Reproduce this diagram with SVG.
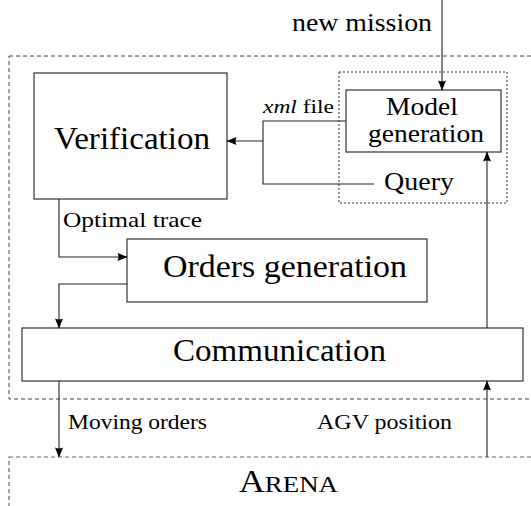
<svg xmlns="http://www.w3.org/2000/svg" width="531" height="506" viewBox="0 0 531 506">
<style>
text{font-family:"Liberation Serif","DejaVu Serif","Times New Roman",serif;fill:#000}
.box{fill:none;stroke:#333;stroke-width:1.2}
.dash{fill:none;stroke:#444;stroke-width:1;stroke-dasharray:4 3}
.dot{fill:none;stroke:#333;stroke-width:1;stroke-dasharray:2 2}
.arena{fill:none;stroke:#666;stroke-width:1.2;stroke-dasharray:4 3}
.con{fill:none;stroke:#222;stroke-width:1.1}
.arr{marker-end:url(#ah)}
</style>
<defs>
<marker id="ah" markerUnits="userSpaceOnUse" markerWidth="10" markerHeight="8" refX="9.5" refY="4" orient="auto" overflow="visible">
<path d="M0,0 L10,4 L0,8 Q2,4 0,0 Z" fill="#000"/>
</marker>
</defs>
<g id="frame">
<rect class="dash" x="9" y="56" width="540" height="343"/>
</g>
<g id="arena" font-family="Liberation Serif, DejaVu Serif, serif">
<rect class="arena" x="9" y="457" width="540" height="80"/>
<text x="239" y="492" font-size="32" textLength="99" lengthAdjust="spacingAndGlyphs">A<tspan font-size="24">RENA</tspan></text>
</g>
<g id="model-group">
<rect class="dot" x="339" y="72" width="168" height="131"/>
</g>
<g id="verification" font-family="Liberation Serif, DejaVu Serif, serif">
<rect class="box" x="34" y="73" width="193" height="126"/>
<text x="54" y="149" font-size="32" textLength="156" lengthAdjust="spacingAndGlyphs">Verification</text>
</g>
<g id="model-generation" font-family="Liberation Serif, DejaVu Serif, serif">
<rect class="box" x="346" y="90" width="155" height="62"/>
<text x="386" y="115" font-size="26" textLength="72" lengthAdjust="spacingAndGlyphs">Model</text>
<text x="368" y="142" font-size="26" textLength="116" lengthAdjust="spacingAndGlyphs">generation</text>
</g>
<g id="query" font-family="Liberation Serif, DejaVu Serif, serif">
<text x="384" y="190" font-size="26" textLength="70" lengthAdjust="spacingAndGlyphs">Query</text>
</g>
<g id="orders-generation" font-family="Liberation Serif, DejaVu Serif, serif">
<rect class="box" x="127" y="239" width="300" height="63"/>
<text x="163" y="277" font-size="32" textLength="244" lengthAdjust="spacingAndGlyphs">Orders generation</text>
</g>
<g id="communication" font-family="Liberation Serif, DejaVu Serif, serif">
<rect class="box" x="22" y="328" width="501" height="53"/>
<text x="173" y="361" font-size="32" textLength="213" lengthAdjust="spacingAndGlyphs">Communication</text>
</g>
<g id="connectors" font-family="Liberation Serif, DejaVu Serif, serif">
<path class="con arr" d="M442,0 V90"/>
<path class="con" d="M346,121 H263 V184 H374"/>
<path class="con arr" d="M263,141 H227" stroke-width="2"/>
<path class="con arr" d="M59,199 V257 H127"/>
<path class="con arr" d="M127,284 H59 V328"/>
<path class="con arr" d="M487,328 V152"/>
<path class="con arr" d="M59,381 V457"/>
<path class="con arr" d="M487,457 V381"/>
<text x="292" y="31" font-size="25" textLength="140" lengthAdjust="spacingAndGlyphs">new mission</text>
<text x="263" y="113" font-size="18" textLength="71" lengthAdjust="spacingAndGlyphs"><tspan font-style="italic">xml</tspan> file</text>
<text x="63" y="227" font-size="21" textLength="139" lengthAdjust="spacingAndGlyphs">Optimal trace</text>
<text x="68" y="429" font-size="22" textLength="139" lengthAdjust="spacingAndGlyphs">Moving orders</text>
<text x="317" y="429" font-size="22" textLength="135" lengthAdjust="spacingAndGlyphs">AGV position</text>
</g>
</svg>
